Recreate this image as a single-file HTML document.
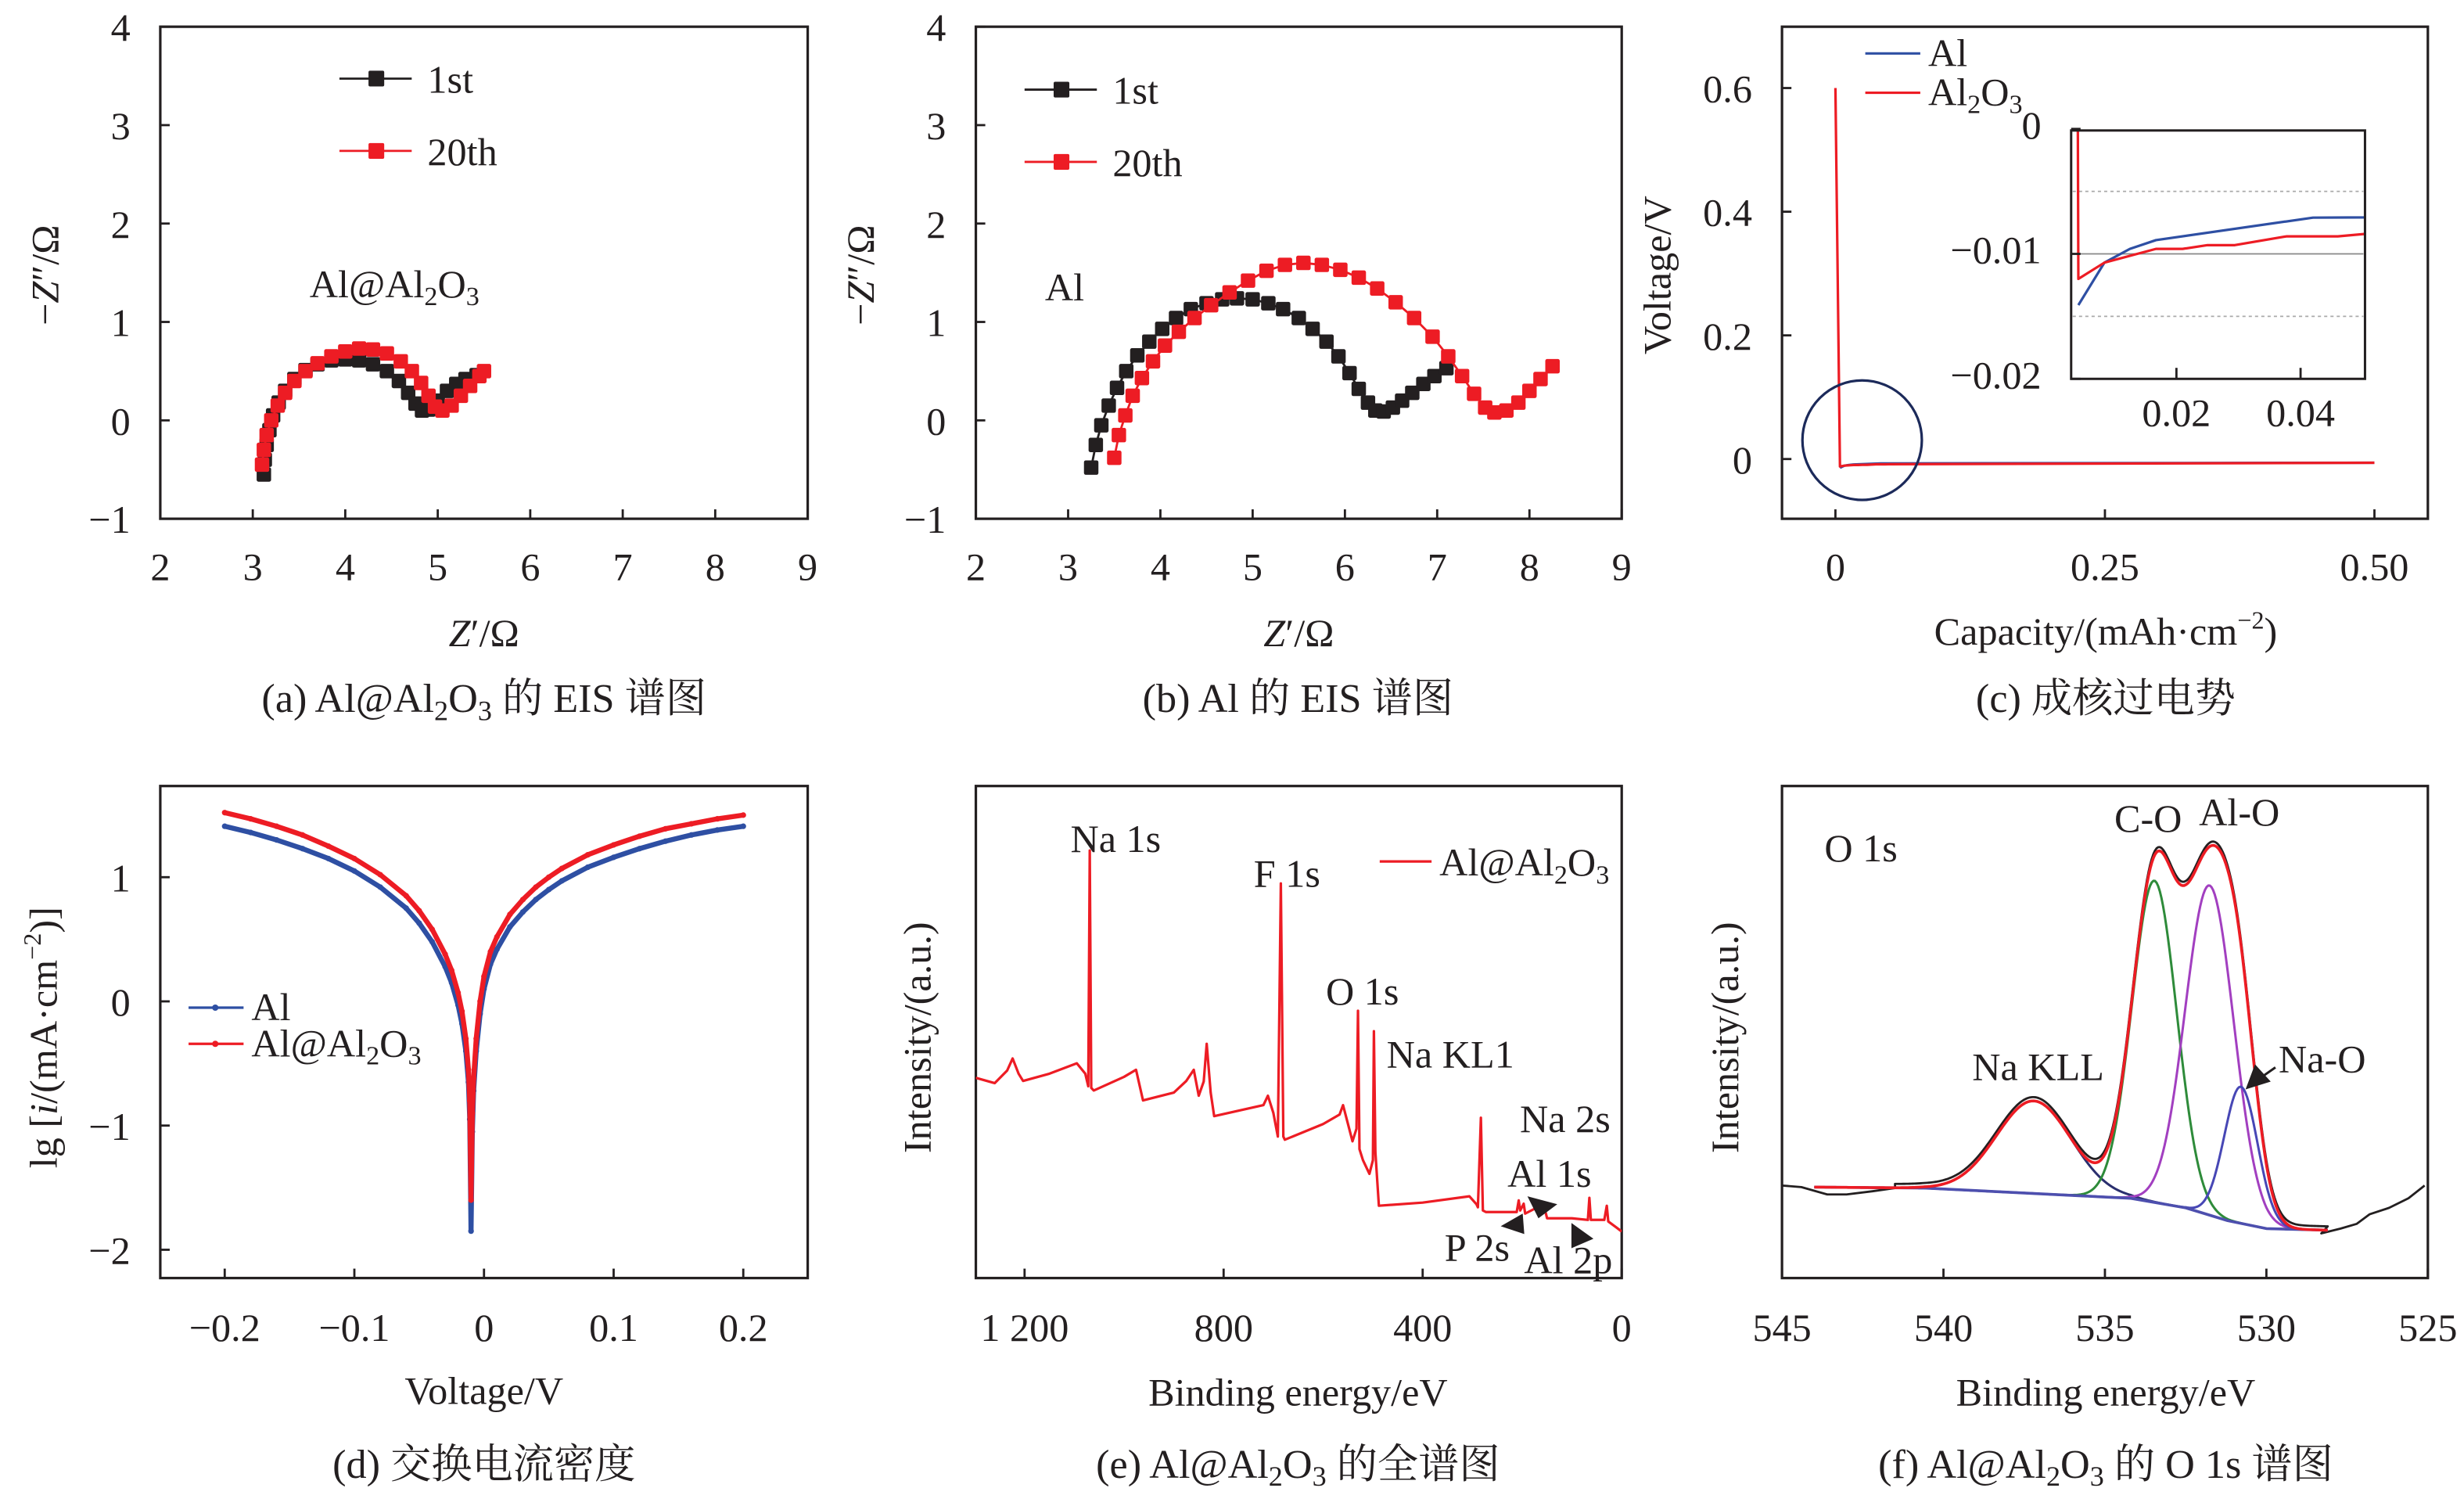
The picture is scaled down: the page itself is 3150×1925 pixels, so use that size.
<!DOCTYPE html>
<html><head><meta charset="utf-8">
<style>
html,body{margin:0;padding:0;background:#fff;}
svg{display:block;}
text{font-family:"Liberation Serif","Noto Serif CJK SC",serif;fill:#231f20;}
</style></head>
<body>
<svg id="fig" xmlns="http://www.w3.org/2000/svg" width="3150" height="1925" viewBox="0 0 1568 958" preserveAspectRatio="none"></svg>
<script>
// ---------- data ----------
const a1stZ=[3.12,3.13,3.15,3.18,3.22,3.28,3.35,3.45,3.57,3.7,3.85,4.0,4.15,4.3,4.45,4.58,4.68,4.76,4.83,4.9,5.0,5.1,5.2,5.3,5.42];
const a1stZi=[-0.55,-0.4,-0.25,-0.1,0.05,0.18,0.3,0.42,0.51,0.57,0.61,0.62,0.61,0.57,0.5,0.4,0.28,0.17,0.1,0.11,0.2,0.3,0.37,0.42,0.46];
const a20Z=[3.1,3.12,3.15,3.2,3.27,3.35,3.45,3.57,3.7,3.85,4.0,4.15,4.3,4.45,4.6,4.72,4.82,4.9,4.97,5.05,5.15,5.25,5.35,5.45,5.5];
const a20Zi=[-0.45,-0.3,-0.15,0,0.15,0.28,0.4,0.5,0.58,0.65,0.7,0.73,0.72,0.68,0.6,0.5,0.38,0.25,0.14,0.1,0.15,0.25,0.35,0.45,0.5];
const b1stZ=[3.25,3.3,3.36,3.44,3.53,3.63,3.75,3.88,4.02,4.17,4.33,4.5,4.67,4.83,5.0,5.17,5.33,5.5,5.65,5.8,5.93,6.05,6.15,6.25,6.33,6.42,6.52,6.62,6.73,6.85,6.97,7.1];
const b1stZi=[-0.48,-0.25,-0.05,0.15,0.33,0.5,0.66,0.8,0.93,1.04,1.13,1.19,1.23,1.24,1.23,1.19,1.13,1.04,0.93,0.8,0.65,0.48,0.32,0.18,0.1,0.09,0.13,0.2,0.28,0.37,0.45,0.53];
const b20Z=[3.5,3.55,3.62,3.7,3.8,3.92,4.05,4.2,4.37,4.55,4.75,4.95,5.15,5.35,5.55,5.75,5.95,6.15,6.35,6.55,6.75,6.95,7.12,7.27,7.4,7.52,7.62,7.75,7.88,8.0,8.12,8.25];
const b20Zi=[-0.38,-0.15,0.05,0.25,0.43,0.6,0.76,0.9,1.04,1.17,1.3,1.42,1.52,1.58,1.6,1.58,1.53,1.45,1.34,1.2,1.04,0.85,0.65,0.45,0.27,0.13,0.08,0.1,0.18,0.3,0.42,0.55];
const eisXTicks=[2,3,4,5,6,7,8,9];
const eisYTicks=[-1,0,1,2,3,4];
const cAlCap=[0.0042,0.0084,0.0125,0.0167,0.042,0.5];
const cAlV=[-0.0141,-0.0107,-0.0096,-0.0089,-0.0071,-0.006];
const cOxCap=[0,0.0042,0.0084,0.0167,0.021,0.025,0.0294,0.0377,0.046,0.0504,0.5];
const cOxV=[0.6,-0.012,-0.0107,-0.0096,-0.0096,-0.0093,-0.0093,-0.0086,-0.0086,-0.0084,-0.006];
const cXTicks=[0,0.25,0.5]; const cXLabels=["0","0.25","0.50"];
const cYTicks=[0,0.2,0.4,0.6]; const cYLabels=["0","0.2","0.4","0.6"];
const insXTicks=[0.02,0.04]; const insXLabels=["0.02","0.04"];
const insYTicks=[0,-0.01,-0.02]; const insYLabels=["0","\u22120.01","\u22120.02"];
const dV=[-0.2,-0.18,-0.16,-0.14,-0.12,-0.1,-0.08,-0.06,-0.05,-0.04,-0.03,-0.025,-0.02,-0.017,-0.014,-0.012,-0.011,-0.01,-0.009,-0.008,-0.006,-0.003,0,0.005,0.01,0.02,0.03,0.04,0.05,0.06,0.08,0.1,0.12,0.14,0.16,0.18,0.2];
const dOx=[1.52,1.47,1.41,1.34,1.25,1.15,1.02,0.85,0.73,0.58,0.38,0.25,0.07,-0.08,-0.3,-0.55,-0.8,-1.6,-0.9,-0.62,-0.3,0,0.2,0.4,0.52,0.7,0.82,0.92,1.0,1.07,1.18,1.26,1.33,1.39,1.43,1.47,1.5];
const dAl=[1.41,1.36,1.3,1.23,1.15,1.05,0.92,0.75,0.63,0.48,0.28,0.15,-0.03,-0.18,-0.4,-0.65,-0.95,-1.85,-1.05,-0.72,-0.4,-0.1,0.1,0.3,0.42,0.6,0.72,0.82,0.9,0.97,1.08,1.16,1.23,1.29,1.34,1.38,1.41];
const dXTicks=[-0.2,-0.1,0,0.1,0.2]; const dXLabels=["\u22120.2","\u22120.1","0","0.1","0.2"];
const dYTicks=[1,0,-1,-2]; const dYLabels=["1","0","\u22121","\u22122"];
const eBE=[1298,1260,1235,1224,1212,1203,1150,1095,1078,1072,1069,1066,1061,1000,976,962,900,875,860,850,840,834,826,819,720,711,700,691,685,680,677,600,567,560,541,533,530,527,520,507,500,498,495,488,400,306,292,289,283,279,273,211,207,204,197,194,157,150,100,68,65,62,35,30,27,10,0];
const eI=[127.4,124,132,139.7,130,125.4,130,136.6,130,122,272,121,119.3,128,132.5,113,118,125.4,132.5,116,125,149,118,103,110,116,105,90,251,90,88,98,104,110,87,95,170,82,75,66.3,75,157,80,46,48,52,47,45,102,43,42,42,49.4,43,47.3,41,47,38,38,37,51,37,37,46,36,32,29.6];
const eXTicks=[1200,800,400,0]; const eXLabels=["1 200","800","400","0"];
const fBgBE=[544,540.6,535.2,534.2,532.5,531.2,530,528.1];
const fBgI=[285,282,255,250,220,180,155,150];
const fCompNames=["na-kll","c-o","al-o","na-o"];
const fCenter=[537.2,533.47,531.76,530.79];
const fHeight=[290,1008,1033,428];
const fSigma=[1.16,0.69,0.75,0.52];
const fRawLeftBE=[545,544.4,543.6,543,542.2,541.5];
const fRawLeftI=[290,285,262,262,272,282];
const fRawRightBE=[528.3,527.7,527.2,526.8,526.2,525.6,525.1];
const fRawRightI=[140,155,170,200,220,250,290];
const fXTicks=[545,540,535,530,525];

// ---------- helpers ----------
const svg=document.getElementById('fig');
const NS='http://www.w3.org/2000/svg';
const FS=25;
function mk(tag,attrs,name,parent){
  const e=document.createElementNS(NS,tag);
  for(const k in attrs) e.setAttribute(k,attrs[k]);
  
  
  (parent||svg).appendChild(e);
  return e;
}
function txt(x,y,s,name,opt){
  opt=opt||{};
  const t=mk('text',{x:x,y:y,'font-size':opt.fs||FS,'text-anchor':opt.anchor||'middle'},name,opt.parent);
  if(opt.rot) t.setAttribute('transform','rotate(-90 '+x+' '+y+')');
  if(opt.html) t.innerHTML=s; else t.textContent=s;
  return t;
}
function lin(d0,d1,p0,p1){return v=>p0+(v-d0)*(p1-p0)/(d1-d0);}
function box(x0,y0,x1,y1,name){
  mk('rect',{x:x0,y:y0,width:x1-x0,height:y1-y0,fill:'none',stroke:'#231f20','stroke-width':1.6},name);
}
function poly(xs,ys,X,Y,stroke,w,name,parent){
  let p=xs.map((v,i)=>X(v).toFixed(2)+','+Y(ys[i]).toFixed(2)).join(' ');
  return mk('polyline',{points:p,fill:'none',stroke:stroke,'stroke-width':w,'stroke-linejoin':'round'},name,parent);
}
function squares(xs,ys,X,Y,fill,name){
  const g=mk('g',{},name);
  poly(xs,ys,X,Y,fill,1.4,name+'-line',g);
  xs.forEach((v,i)=>{
    mk('rect',{x:X(v)-4.6,y:Y(ys[i])-4.6,width:9.2,height:9.2,rx:1.2,fill:fill},name+'-marker',g);
  });
}
const SUB23='Al@Al<tspan font-size="17" dy="5">2</tspan><tspan dy="-5">O</tspan><tspan font-size="17" dy="5">3</tspan>';

// ---------- (a) & (b) ----------
function eis(x0,x1,pref,s1z,s1i,s2z,s2i,legY,sampleLabel,slx,sly,ylx){
  const X=lin(2,9,x0,x1), Y=lin(-1,4,330,17);
  box(x0,17,x1,330,pref+'-plot-frame');
  eisXTicks.forEach(t=>{
    mk('line',{x1:X(t),y1:330,x2:X(t),y2:324,stroke:'#231f20','stroke-width':1.4},pref+'-x-tick');
    txt(X(t),369,String(t),pref+'-x-tick-label');
  });
  eisYTicks.forEach(t=>{
    mk('line',{x1:x0,y1:Y(t),x2:x0+6,y2:Y(t),stroke:'#231f20','stroke-width':1.4},pref+'-y-tick');
    txt(x0-19,Y(t)+9,t<0?'\u2212'+Math.abs(t):String(t),pref+'-y-tick-label',{anchor:'end'});
  });
  squares(s1z,s1i,X,Y,'#231f20',pref+'-series-1st');
  squares(s2z,s2i,X,Y,'#ed1c24',pref+'-series-20th');
  const lx=legY[0];
  mk('line',{x1:lx,y1:legY[1],x2:lx+46,y2:legY[1],stroke:'#231f20','stroke-width':1.4},pref+'-legend-1st-line');
  mk('rect',{x:lx+18.5,y:legY[1]-5,width:10,height:10,rx:1,fill:'#231f20'},pref+'-legend-1st-marker');
  txt(lx+56,legY[1]+9,'1st',pref+'-legend-1st-label',{anchor:'start'});
  mk('line',{x1:lx,y1:legY[2],x2:lx+46,y2:legY[2],stroke:'#ed1c24','stroke-width':1.4},pref+'-legend-20th-line');
  mk('rect',{x:lx+18.5,y:legY[2]-5,width:10,height:10,rx:1,fill:'#ed1c24'},pref+'-legend-20th-marker');
  txt(lx+56,legY[2]+9,'20th',pref+'-legend-20th-label',{anchor:'start'});
  txt(slx,sly,sampleLabel,pref+'-sample-label',{anchor:'start',html:true});
  txt(ylx,175,'\u2212<tspan font-style="italic">Z</tspan>\u2033/\u03a9',pref+'-y-axis-title',{rot:true,html:true});
  txt((x0+x1)/2,411,'<tspan font-style="italic">Z</tspan>\u2032/\u03a9',pref+'-x-axis-title',{html:true});
}
eis(102,514,'panel-a',a1stZ,a1stZi,a20Z,a20Zi,[216,50,96],SUB23,197,189,37);
eis(621,1032,'panel-b',b1stZ,b1stZi,b20Z,b20Zi,[652,57,103],'Al',665,191,556);

// ---------- (c) ----------
(function(){
  const X=lin(0,0.5,1168,1511), Y=lin(0,0.6,292,56);
  box(1134,17,1545,330,'panel-c-plot-frame');
  cXTicks.forEach((t,i)=>{
    mk('line',{x1:X(t),y1:330,x2:X(t),y2:324,stroke:'#231f20','stroke-width':1.4},'panel-c-x-tick');
    txt(X(t),369,cXLabels[i],'panel-c-x-tick-label');
  });
  cYTicks.forEach((t,i)=>{
    mk('line',{x1:1134,y1:Y(t),x2:1140,y2:Y(t),stroke:'#231f20','stroke-width':1.4},'panel-c-y-tick');
    txt(1115,Y(t)+9,cYLabels[i],'panel-c-y-tick-label',{anchor:'end'});
  });
  poly(cAlCap,cAlV,X,Y,'#2e4fa3',1.6,'panel-c-series-al');
  poly(cOxCap,cOxV,X,Y,'#ed1c24',1.6,'panel-c-series-al2o3');
  mk('circle',{cx:1185,cy:280,r:38,fill:'none',stroke:'#1c2a5a','stroke-width':1.6},'panel-c-zoom-circle');
  mk('line',{x1:1187,y1:34,x2:1222,y2:34,stroke:'#2e4fa3','stroke-width':1.6},'panel-c-legend-al-line');
  txt(1227,42,'Al','panel-c-legend-al-label',{anchor:'start'});
  mk('line',{x1:1187,y1:59,x2:1222,y2:59,stroke:'#ed1c24','stroke-width':1.6},'panel-c-legend-al2o3-line');
  txt(1227,67,'Al<tspan font-size="17" dy="5">2</tspan><tspan dy="-5">O</tspan><tspan font-size="17" dy="5">3</tspan>','panel-c-legend-al2o3-label',{anchor:'start',html:true});
  const IX=lin(0.02,0.04,1385,1464), IY=lin(0,-0.02,82,241);
  mk('rect',{x:1318,y:83,width:187,height:158,fill:'#fff',stroke:'none'},'inset-background');
  [-0.005,-0.015].forEach(v=>mk('line',{x1:1319,y1:IY(v),x2:1504,y2:IY(v),stroke:'#aaa','stroke-width':0.9,'stroke-dasharray':'2,2'},'inset-gridline'));
  mk('line',{x1:1319,y1:IY(-0.01),x2:1504,y2:IY(-0.01),stroke:'#888','stroke-width':0.9},'inset-zero-reference-line');
  const g=mk('g',{},'inset-clip-group');
  const cp=mk('clipPath',{id:'insclip'},'inset-clip');
  mk('rect',{x:1318,y:83,width:187,height:158},'inset-clip-rect',cp);
  g.setAttribute('clip-path','url(#insclip)');
  poly(cAlCap,cAlV,IX,IY,'#2e4fa3',1.6,'inset-series-al',g);
  poly(cOxCap,cOxV,IX,IY,'#ed1c24',1.6,'inset-series-al2o3',g);
  mk('rect',{x:1318,y:83,width:187,height:158,fill:'none',stroke:'#231f20','stroke-width':1.5},'inset-frame');
  insXTicks.forEach((t,i)=>{
    mk('line',{x1:IX(t),y1:241,x2:IX(t),y2:234,stroke:'#231f20','stroke-width':1.4},'inset-x-tick');
    txt(IX(t),271,insXLabels[i],'inset-x-tick-label');
  });
  insYTicks.forEach((t,i)=>{
    mk('line',{x1:1318,y1:IY(t),x2:1324,y2:IY(t),stroke:'#231f20','stroke-width':1.4},'inset-y-tick');
    txt(1299,IY(t)+6,insYLabels[i],'inset-y-tick-label',{anchor:'end'});
  });
  txt(1063,175,'Voltage/V','panel-c-y-axis-title',{rot:true});
  txt(1340,410,'Capacity/(mAh\u00b7cm<tspan font-size="16" dy="-10">\u22122</tspan><tspan dy="10">)</tspan>','panel-c-x-axis-title',{html:true});
})();

// ---------- (d) ----------
(function(){
  const X=lin(0,0.2,308,473), Y=lin(0,1,637,558);
  box(102,500,514,813,'panel-d-plot-frame');
  dXTicks.forEach((t,i)=>{
    mk('line',{x1:X(t),y1:813,x2:X(t),y2:807,stroke:'#231f20','stroke-width':1.4},'panel-d-x-tick');
    txt(X(t),853,dXLabels[i],'panel-d-x-tick-label');
  });
  dYTicks.forEach((t,i)=>{
    mk('line',{x1:102,y1:Y(t),x2:108,y2:Y(t),stroke:'#231f20','stroke-width':1.4},'panel-d-y-tick');
    txt(83,Y(t)+9,dYLabels[i],'panel-d-y-tick-label',{anchor:'end'});
  });
  function ser(v,c,name){
    const g=mk('g',{},name);
    poly(dV,v,X,Y,c,3.2,name+'-line',g);
    dV.forEach((x,i)=>mk('circle',{cx:X(x),cy:Y(v[i]),r:1.8,fill:c},name+'-point',g));
  }
  ser(dAl,'#2e4fa3','panel-d-series-al');
  ser(dOx,'#ed1c24','panel-d-series-al2o3');
  mk('line',{x1:120,y1:641,x2:155,y2:641,stroke:'#2e4fa3','stroke-width':1.6},'panel-d-legend-al-line');
  mk('circle',{cx:137,cy:641,r:2,fill:'#2e4fa3'},'panel-d-legend-al-marker');
  txt(160,649,'Al','panel-d-legend-al-label',{anchor:'start'});
  mk('line',{x1:120,y1:664,x2:155,y2:664,stroke:'#ed1c24','stroke-width':1.6},'panel-d-legend-al2o3-line');
  mk('circle',{cx:137,cy:664,r:2,fill:'#ed1c24'},'panel-d-legend-al2o3-marker');
  txt(160,672,SUB23,'panel-d-legend-al2o3-label',{anchor:'start',html:true});
  txt(36,660,'lg [<tspan font-style="italic">i</tspan>/(mA\u00b7cm<tspan font-size="16" dy="-10">\u22122</tspan><tspan dy="10">)]</tspan>','panel-d-y-axis-title',{rot:true,html:true});
  txt(308,893,'Voltage/V','panel-d-x-axis-title');
})();

// ---------- (e) ----------
(function(){
  const X=lin(1200,0,652,1032), Y=v=>813-v;
  box(621,500,1032,813,'panel-e-plot-frame');
  eXTicks.forEach((t,i)=>{
    mk('line',{x1:X(t),y1:813,x2:X(t),y2:807,stroke:'#231f20','stroke-width':1.4},'panel-e-x-tick');
    txt(X(t),853,eXLabels[i],'panel-e-x-tick-label');
  });
  const g=mk('g',{},'panel-e-clip-group');
  const cp=mk('clipPath',{id:'eclip'},'panel-e-clip');
  mk('rect',{x:621,y:500,width:411,height:313},'panel-e-clip-rect',cp);
  g.setAttribute('clip-path','url(#eclip)');
  poly(eBE,eI,X,Y,'#ed1c24',1.6,'panel-e-spectrum',g);
  mk('line',{x1:878,y1:548,x2:911,y2:548,stroke:'#ed1c24','stroke-width':1.6},'panel-e-legend-line');
  txt(916,557,SUB23,'panel-e-legend-label',{anchor:'start',html:true});
  const L=[['Na 1s',710,542],['F 1s',819,564],['O 1s',867,639],['Na KL1',923,679],['Na 2s',996,720],['Al 1s',986,755],['P 2s',940,802],['Al 2p',998,810]];
  L.forEach(l=>txt(l[1],l[2],l[0],'panel-e-peak-label-'+l[0].toLowerCase().replace(/ /g,'-')));
  mk('polygon',{points:'972,761 991,766 979,775',fill:'#231f20'},'panel-e-arrow-al-1s');
  mk('polygon',{points:'955,780 969,772 970,785',fill:'#231f20'},'panel-e-arrow-p-2s');
  mk('polygon',{points:'1000,778 1014,788 1000,794',fill:'#231f20'},'panel-e-arrow-al-2p');
  txt(592,660,'Intensity/(a.u.)','panel-e-y-axis-title',{rot:true});
  txt(826,894,'Binding energy/eV','panel-e-x-axis-title');
})();

// ---------- (f) ----------
(function(){
  const X=lin(545,525,1134,1545), Y=v=>813-(v)*0.203;
  box(1134,500,1545,813,'panel-f-plot-frame');
  fXTicks.forEach(t=>{
    mk('line',{x1:X(t),y1:813,x2:X(t),y2:807,stroke:'#231f20','stroke-width':1.4},'panel-f-x-tick');
    txt(X(t),853,String(t),'panel-f-x-tick-label');
  });
  function bg(e){
    for(let i=0;i<fBgBE.length-1;i++){
      if(e<=fBgBE[i]&&e>=fBgBE[i+1]){const t=(fBgBE[i]-e)/(fBgBE[i]-fBgBE[i+1]);return fBgI[i]+t*(fBgI[i+1]-fBgI[i]);}
    }
    return e>fBgBE[0]?fBgI[0]:fBgI[fBgI.length-1];
  }
  function comp(k,e){return fHeight[k]*Math.exp(-0.5*Math.pow((e-fCenter[k])/fSigma[k],2));}
  const grid=[]; for(let e=544;e>=528.1;e-=0.05) grid.push(+e.toFixed(2));
  const env=grid.map(e=>bg(e)+[0,1,2,3].reduce((s,k)=>s+comp(k,e),0));
  const i0=grid.findIndex(e=>e<=541.5);
  const rawBE=fRawLeftBE.concat(grid.slice(i0),fRawRightBE);
  const rawI=fRawLeftI.concat(env.slice(i0).map(v=>v+12),fRawRightI);
  poly(rawBE,rawI,X,Y,'#231f20',1.4,'panel-f-raw-data');
  const cols=['#2a2f6e','#2e8b3a','#a23fc0','#4747b5'];
  [0,1,2,3].forEach(k=>{
    const pts=grid.map(e=>bg(e)+comp(k,e));
    poly(grid,pts,X,Y,cols[k],1.5,'panel-f-component-'+fCompNames[k]);
  });
  poly(fBgBE,fBgI,X,Y,'#4d4fae',1.8,'panel-f-background');
  poly(grid,env,X,Y,'#ed1c24',1.8,'panel-f-envelope');
  txt(1161,548,'O 1s','panel-f-title-label',{anchor:'start'});
  txt(1367,529,'C-O','panel-f-label-c-o');
  txt(1425,525,'Al-O','panel-f-label-al-o');
  txt(1297,687,'Na KLL','panel-f-label-na-kll');
  txt(1450,682,'Na-O','panel-f-label-na-o',{anchor:'start'});
  mk('line',{x1:1448,y1:679,x2:1438,y2:686,stroke:'#231f20','stroke-width':1.5},'panel-f-arrow-shaft');
  mk('polygon',{points:'1429,693 1435,677 1445,688',fill:'#231f20'},'panel-f-arrow-head');
  txt(1106,660,'Intensity/(a.u.)','panel-f-y-axis-title',{rot:true});
  txt(1340,894,'Binding energy/eV','panel-f-x-axis-title');
})();

// ---------- captions ----------
const SUBc='Al@Al<tspan font-size="18" dy="5">2</tspan><tspan dy="-5">O</tspan><tspan font-size="18" dy="5">3</tspan><tspan dy="-5"> </tspan>';
txt(308,453,'(a) '+SUBc+'的 EIS 谱图','caption-a',{html:true,fs:26});
txt(826,453,'(b) Al 的 EIS 谱图','caption-b',{fs:26});
txt(1340,453,'(c) 成核过电势','caption-c',{fs:26});
txt(308,940,'(d) 交换电流密度','caption-d',{fs:26});
txt(826,940,'(e) '+SUBc+'的全谱图','caption-e',{html:true,fs:26});
txt(1340,940,'(f) '+SUBc+'的 O 1s 谱图','caption-f',{html:true,fs:26});
</script>
</body></html>
